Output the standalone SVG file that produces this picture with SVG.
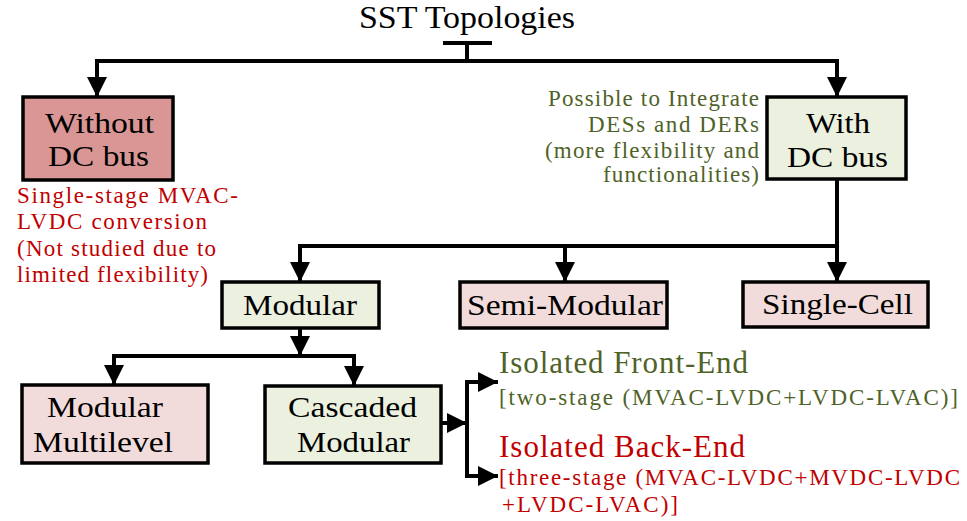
<svg xmlns="http://www.w3.org/2000/svg" width="967" height="521" viewBox="0 0 967 521">
<style>
  text { font-family: "Liberation Serif", "Times New Roman", serif; fill: #000; }
  .box { stroke: #000; stroke-width: 3.5; }
  .red { fill: #D99694; }
  .pink { fill: #F2DCDB; }
  .green { fill: #EBF1DE; }
  .big { font-size: 30px; }
  .small { font-size: 23px; }
  .head { font-size: 31px; }
  .tr { fill: #C00000; }
  .tg { fill: #4F6228; }
  .conn { fill: none; stroke: #000; stroke-width: 4; }
</style>
<defs>
  <marker id="ah" markerUnits="userSpaceOnUse" markerWidth="20" markerHeight="20" refX="20" refY="10" orient="auto" viewBox="0 0 20 20">
    <path d="M0,0 L20,10 L0,20 Z" fill="#000"/>
  </marker>
</defs>
<rect width="967" height="521" fill="#fff"/>

<g id="title">
  <text x="359" y="28" font-size="32" textLength="216" lengthAdjust="spacingAndGlyphs">SST Topologies</text>
</g>

<g id="connectors">
  <path class="conn" d="M443,43 L492,43 M467,43 L467,61"/>
  <path class="conn" d="M467,61 L97,61 L97,97" marker-end="url(#ah)"/>
  <path class="conn" d="M467,61 L837,61 L837,97" marker-end="url(#ah)"/>
  <path class="conn" d="M837,179 L837,282" marker-end="url(#ah)"/>
  <path class="conn" d="M837,246 L300,246 L300,282" marker-end="url(#ah)"/>
  <path class="conn" d="M565,246 L565,282" marker-end="url(#ah)"/>
  <path class="conn" d="M300,328 L300,356" marker-end="url(#ah)"/>
  <path class="conn" d="M300,356 L114,356 L114,385" marker-end="url(#ah)"/>
  <path class="conn" d="M300,356 L354,356 L354,386" marker-end="url(#ah)"/>
  <path class="conn" d="M441,423 L467,423" marker-end="url(#ah)"/>
  <path class="conn" d="M467,423 L467,382 L498,382" marker-end="url(#ah)"/>
  <path class="conn" d="M467,423 L467,476 L498,476" marker-end="url(#ah)"/>
</g>

<g id="without-dc-bus">
  <rect class="box red" x="23" y="97" width="150" height="83"/>
  <text class="big" x="45" y="133" textLength="109" lengthAdjust="spacingAndGlyphs">Without</text>
  <text class="big" x="48" y="166" textLength="101" lengthAdjust="spacingAndGlyphs">DC bus</text>
</g>

<g id="without-note">
  <text class="small tr" x="17" y="203" textLength="221" lengthAdjust="spacing">Single-stage MVAC-</text>
  <text class="small tr" x="17" y="229" textLength="190" lengthAdjust="spacing">LVDC conversion</text>
  <text class="small tr" x="17" y="256" textLength="199" lengthAdjust="spacing">(Not studied due to</text>
  <text class="small tr" x="17" y="282" textLength="191" lengthAdjust="spacing">limited flexibility)</text>
</g>

<g id="with-dc-bus">
  <rect class="box green" x="767" y="97" width="139" height="82"/>
  <text class="big" x="806" y="133" textLength="64" lengthAdjust="spacingAndGlyphs">With</text>
  <text class="big" x="787" y="167" textLength="101" lengthAdjust="spacingAndGlyphs">DC bus</text>
</g>

<g id="with-note">
  <text class="small tg" x="548" y="106" textLength="211" lengthAdjust="spacing">Possible to Integrate</text>
  <text class="small tg" x="588" y="132" textLength="171" lengthAdjust="spacing">DESs and DERs</text>
  <text class="small tg" x="545" y="158" textLength="214" lengthAdjust="spacing">(more flexibility and</text>
  <text class="small tg" x="603" y="182" textLength="156" lengthAdjust="spacing">functionalities)</text>
</g>

<g id="modular">
  <rect class="box green" x="222" y="282" width="157" height="46"/>
  <text class="big" x="243" y="315" textLength="114" lengthAdjust="spacingAndGlyphs">Modular</text>
</g>

<g id="semi-modular">
  <rect class="box pink" x="460" y="282" width="207" height="46"/>
  <text class="big" x="467" y="315" textLength="196" lengthAdjust="spacingAndGlyphs">Semi-Modular</text>
</g>

<g id="single-cell">
  <rect class="box pink" x="743" y="282" width="185" height="45"/>
  <text class="big" x="762" y="314" textLength="151" lengthAdjust="spacingAndGlyphs">Single-Cell</text>
</g>

<g id="modular-multilevel">
  <rect class="box pink" x="22" y="385" width="186" height="78"/>
  <text class="big" x="47" y="417" textLength="116" lengthAdjust="spacingAndGlyphs">Modular</text>
  <text class="big" x="33" y="452" textLength="140" lengthAdjust="spacingAndGlyphs">Multilevel</text>
</g>

<g id="cascaded-modular">
  <rect class="box green" x="265" y="386" width="176" height="77"/>
  <text class="big" x="288" y="417" textLength="129" lengthAdjust="spacingAndGlyphs">Cascaded</text>
  <text class="big" x="297" y="452" textLength="113" lengthAdjust="spacingAndGlyphs">Modular</text>
</g>

<g id="isolated-front-end">
  <text class="head tg" x="499" y="373" textLength="249" lengthAdjust="spacing">Isolated Front-End</text>
  <text class="small tg" x="499" y="405" textLength="459" lengthAdjust="spacing">[two-stage (MVAC-LVDC+LVDC-LVAC)]</text>
</g>

<g id="isolated-back-end">
  <text class="head tr" x="499" y="457" textLength="246" lengthAdjust="spacing">Isolated Back-End</text>
  <text class="small tr" x="499" y="485" textLength="461" lengthAdjust="spacing">[three-stage (MVAC-LVDC+MVDC-LVDC</text>
  <text class="small tr" x="502" y="512" textLength="176" lengthAdjust="spacing">+LVDC-LVAC)]</text>
</g>
</svg>
